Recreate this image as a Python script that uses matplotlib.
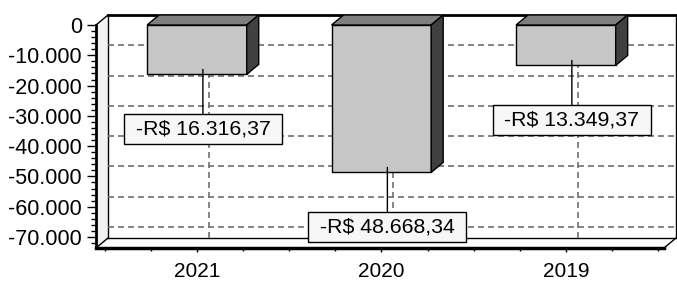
import matplotlib.pyplot as plt
from matplotlib.ticker import FuncFormatter, MultipleLocator, FixedLocator
import numpy as np

plt.rcParams['font.family'] = ['Liberation Sans', 'DejaVu Sans']

years = ['2021', '2020', '2019']
values = [-16316.37, -48668.34, -13349.37]

# pseudo 3d depth (x in category units, y in value units)
D = 0.065
DY = 3300
xlo, xhi = -0.547, 2.597
ylo = -73630
w = 0.54

def brl(v):
    s = f"{abs(v):,.2f}".replace(',', 'X').replace('.', ',').replace('X', '.')
    return ('-' if v < 0 else '') + 'R$ ' + s

fig = plt.figure(figsize=(6.77, 2.82), dpi=100)
ax = fig.add_axes([96/677, 34/282, 580/677, 233/282])
ax.set_xlim(xlo, xhi)
ax.set_ylim(ylo, DY)

# walls and frame
ax.fill([xlo, xlo, xlo+D, xlo+D], [ylo, 0, DY, ylo+DY], color='#f2f2f2', zorder=0)
ax.plot([xlo+D, xhi], [DY, DY], color='k', lw=2, zorder=1, clip_on=False)
ax.plot([xlo+D, xhi], [ylo+DY, ylo+DY], color='k', lw=1, zorder=1)
ax.plot([xlo+D, xlo+D], [ylo+DY, DY], color='k', lw=1, zorder=1)
ax.plot([xhi, xhi], [ylo+DY, DY], color='k', lw=1, zorder=1, clip_on=False)
ax.plot([xlo, xlo+D], [0, DY], color='k', lw=1, zorder=1, clip_on=False)
ax.plot([xlo, xlo+D], [ylo, ylo+DY], color='k', lw=1, zorder=1)
ax.plot([xhi-D, xhi], [ylo, ylo+DY], color='k', lw=1, zorder=1, clip_on=False)

# grid on back wall
for v in range(-70000, 0, 10000):
    ax.plot([xlo+D, xhi], [v+DY, v+DY], color='#707070', lw=1.2, dashes=(3.6, 2.4), zorder=1)
for i in range(len(years)):
    ax.plot([i+D, i+D], [ylo+DY, DY], color='#707070', lw=1.2, dashes=(3.6, 2.4), zorder=1)

# bars
x = np.arange(len(years))
ax.bar(x, values, width=w, color='#c6c6c6', edgecolor='k', linewidth=1, zorder=3)
for i, v in zip(x, values):
    l, r = i - w/2, i + w/2
    ax.fill([l, r, r+D, l+D], [0, 0, DY, DY], facecolor='#7f7f7f', edgecolor='k', lw=1, zorder=3)
    ax.fill([r, r+D, r+D, r], [0, DY, v+DY, v], facecolor='#404040', edgecolor='k', lw=1, zorder=3)
    ax.annotate(' ' + brl(v) + ' ', xy=(i + D/2, v + DY/2), xytext=(0, -43),
                textcoords='offset points', ha='center', va='center', fontsize=15.3,
                bbox=dict(boxstyle='square,pad=0.26', fc='#f7f7f7', ec='k', lw=1),
                arrowprops=dict(arrowstyle='-', color='k', lw=1, shrinkA=0, shrinkB=0),
                zorder=5)

# axes
for s in ['top', 'right']:
    ax.spines[s].set_visible(False)
ax.spines['left'].set_linewidth(2)
ax.spines['left'].set_bounds(ylo, 0)
ax.spines['bottom'].set_linewidth(2.5)
ax.spines['bottom'].set_bounds(xlo, xhi - D)

ax.set_xticks(x, years)
ax.xaxis.set_minor_locator(MultipleLocator(0.25))
ax.yaxis.set_major_locator(FixedLocator(range(-70000, 1, 10000)))
ax.yaxis.set_minor_locator(FixedLocator(np.arange(-72000, 0, 2000)))
ax.yaxis.set_major_formatter(FuncFormatter(lambda v, p: f"{v:,.0f}".replace(',', '.')))
ax.tick_params(axis='y', which='major', length=6.5, width=1, pad=3.5, labelsize=15.5)
ax.tick_params(axis='y', which='minor', length=3.5, width=1)
ax.tick_params(axis='x', which='major', length=3, width=1, pad=7, labelsize=15)
ax.tick_params(axis='x', which='minor', length=2, width=1)

fig.savefig('out.png', dpi=100)
